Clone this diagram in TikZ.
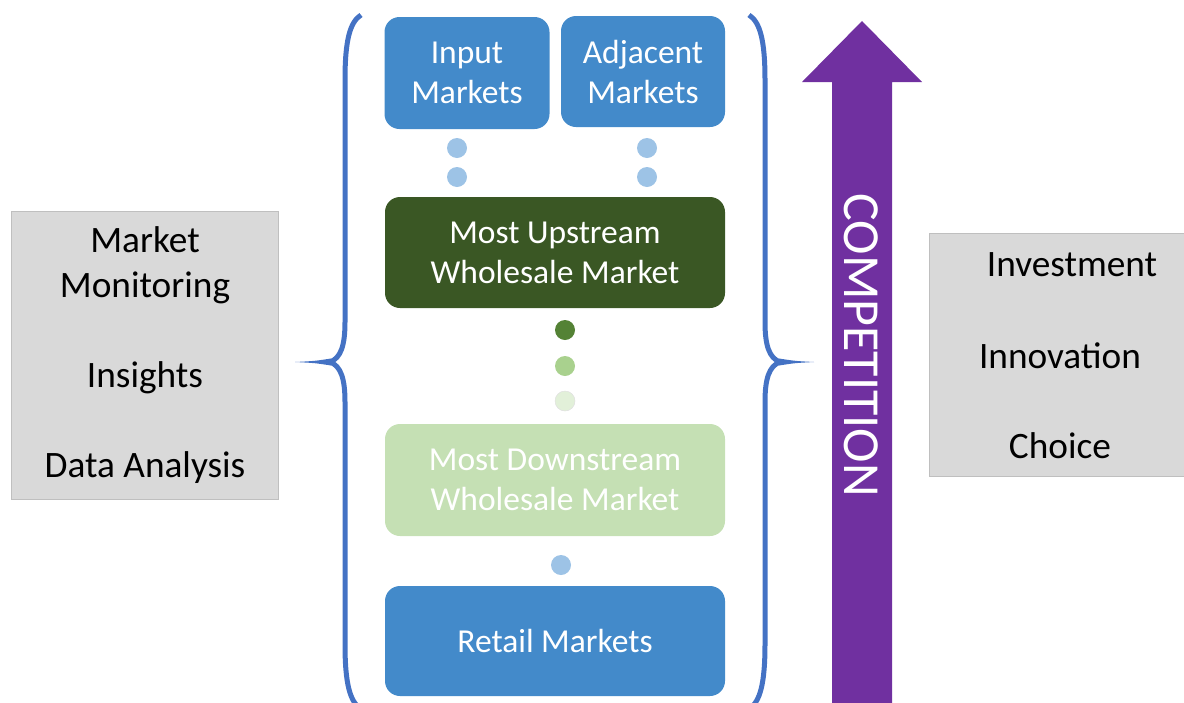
\documentclass[tikz,border=0pt]{standalone}
\usepackage{fontspec}
\setmainfont{Carlito}
\definecolor{boxblue}{RGB}{67,138,202}
\definecolor{dkgreen}{RGB}{58,87,36}
\definecolor{ltgreen}{RGB}{197,224,180}
\definecolor{dotblue}{RGB}{157,195,230}
\definecolor{dotg1}{RGB}{84,130,53}
\definecolor{dotg2}{RGB}{169,209,142}
\definecolor{dotg3}{RGB}{226,240,217}
\definecolor{bracecol}{RGB}{68,114,196}
\definecolor{arrowcol}{RGB}{112,48,160}
\definecolor{graybox}{RGB}{217,217,217}
\definecolor{grayedge}{RGB}{191,191,191}
\tikzset{
  mkt/.style={rounded corners=15pt, inner sep=0pt, align=center, text=white,
    font=\fontsize{33.5}{40}\selectfont},
  dotn/.style={circle, minimum size=20pt, inner sep=0pt},
  bracepath/.style={draw=bracecol, line width=5pt},
  sidebox/.style={fill=graybox, draw=grayedge, line width=0.8pt, inner sep=0pt},
  sidetext/.style={font=\fontsize{37.3}{45}\selectfont, text=black, inner sep=0pt},
}
\begin{document}
\begin{tikzpicture}[x=1pt,y=-1pt]
\useasboundingbox (0,0) rectangle (1184,702);
% side boxes
\node[sidebox, minimum width=267pt, minimum height=288pt] (leftbox) at (144.5,355) {};
\node[sidetext, align=center] (lefttext) at (145,355) {Market\\Monitoring\\[45pt]Insights\\[45pt]Data Analysis};
\node[sidebox, minimum width=270pt, minimum height=243pt] (rightbox) at (1064,354.5) {};
\node[sidetext] (inv) at (1072,265) {Investment};
\node[sidetext] (inn) at (1060,356) {Innovation};
\node[sidetext] (cho) at (1060,446) {Choice};
% market boxes
\node[mkt, fill=boxblue, minimum width=165pt, minimum height=112pt] (inp) at (467,73) {Input\\Markets};
\node[mkt, fill=boxblue, minimum width=164pt, minimum height=111pt] (adj) at (643,71.5) {Adjacent\\Markets};
\node[mkt, fill=dkgreen, minimum width=340pt, minimum height=111pt] (up) at (555,252.5) {Most Upstream\\Wholesale Market};
\node[mkt, fill=ltgreen, minimum width=340pt, minimum height=112pt] (down) at (555,480) {Most Downstream\\Wholesale Market};
\node[mkt, fill=boxblue, minimum width=340pt, minimum height=110pt] (retail) at (555,641) {Retail Markets};
% dots
\node[dotn, fill=dotblue] (d1) at (457,148) {};
\node[dotn, fill=dotblue] (d2) at (457,177) {};
\node[dotn, fill=dotblue] (d3) at (647,148) {};
\node[dotn, fill=dotblue] (d4) at (647,177) {};
\node[dotn, fill=dotg1] (g1) at (565,330) {};
\node[dotn, fill=dotg2] (g2) at (565,366) {};
\node[dotn, fill=dotg3, draw=black!12, line width=0.5pt] (g3) at (565,401) {};
\node[dotn, fill=dotblue] (d5) at (561,565) {};
% left brace
\draw[bracepath] (361,15) .. controls (350,22) and (345,40) .. (345,80) -- (345,322)
  .. controls (345,345) and (341,358) .. (330,362)
  .. controls (341,366) and (345,379) .. (345,402) -- (345,644)
  .. controls (345,684) and (350,702) .. (361,709);
\fill[bracecol] (331,358.5) .. controls (315,361) .. (295,362) .. controls (315,363) .. (331,365.5) -- cycle;
% right brace
\draw[bracepath] (749,15) .. controls (760,22) and (765,40) .. (765,80) -- (765,322)
  .. controls (765,345) and (769,358) .. (780,362)
  .. controls (769,366) and (765,379) .. (765,402) -- (765,644)
  .. controls (765,684) and (760,702) .. (749,709);
\fill[bracecol] (779,358.5) .. controls (795,361) .. (814,362) .. controls (795,363) .. (779,365.5) -- cycle;
% competition arrow
\fill[arrowcol] (832,705) -- (832,82) -- (802,82) -- (862,21) -- (922,82) -- (892,82) -- (892,705) -- cycle;
\node[rotate=-90, text=white, font=\fontsize{52}{60}\selectfont, inner sep=0pt] (comp) at (861,345) {COMPETITION};
\end{tikzpicture}
\end{document}
